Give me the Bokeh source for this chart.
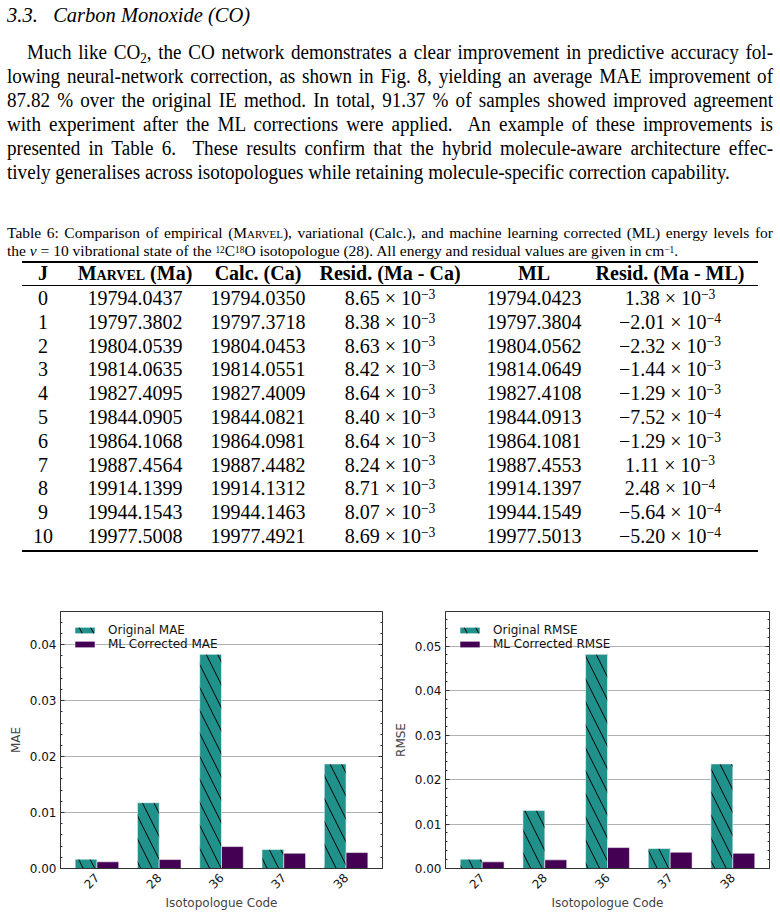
from bokeh.plotting import figure
from bokeh.models import (Div, ColumnDataSource, FactorRange, Range1d, LinearAxis,
                          SingleIntervalTicker, NumeralTickFormatter, CustomJSTickFormatter)
from bokeh.transform import dodge
from bokeh.layouts import column, row
from bokeh.embed import file_html
from bokeh.resources import INLINE

# ---------------- table data (v = 10, 12C18O) ----------------
j_levels = [0, 1, 2, 3, 4, 5, 6, 7, 8, 9, 10]
marvel = [19794.0437, 19797.3802, 19804.0539, 19814.0635, 19827.4095, 19844.0905,
          19864.1068, 19887.4564, 19914.1399, 19944.1543, 19977.5008]
calc = [19794.0350, 19797.3718, 19804.0453, 19814.0551, 19827.4009, 19844.0821,
        19864.0981, 19887.4482, 19914.1312, 19944.1463, 19977.4921]
resid_ma_ca = [8.65e-3, 8.38e-3, 8.63e-3, 8.42e-3, 8.64e-3, 8.40e-3,
               8.64e-3, 8.24e-3, 8.71e-3, 8.07e-3, 8.69e-3]
ml_levels = [19794.0423, 19797.3804, 19804.0562, 19814.0649, 19827.4108, 19844.0913,
             19864.1081, 19887.4553, 19914.1397, 19944.1549, 19977.5013]
resid_ma_ml = [1.38e-3, -2.01e-4, -2.32e-3, -1.44e-3, -1.29e-3, -7.52e-4,
               -1.29e-3, 1.11e-3, 2.48e-4, -5.64e-4, -5.20e-4]

# ---------------- bar chart data ----------------
isotopologues = ["27", "28", "36", "37", "38"]
mae_original = [0.00166, 0.01175, 0.03828, 0.00338, 0.01869]
mae_ml = [0.00119, 0.00160, 0.00392, 0.00273, 0.00285]
rmse_original = [0.00209, 0.01306, 0.04813, 0.00448, 0.02351]
rmse_ml = [0.00149, 0.00194, 0.00470, 0.00366, 0.00343]

TEAL = "#21918c"
PURPLE = "#440154"
SERIF = "'Liberation Serif','Times New Roman',serif"
SANS = "DejaVu Sans"

# ---------------- text block ----------------
SUP = "<span style='font-size:0.68em;position:relative;top:-0.45em'>{}</span>"
SUP_SMALL = "<span style='font-size:0.6em;position:relative;top:-0.33em'>{}</span>"
SUB = "<span style='font-size:0.68em;position:relative;top:0.3em'>{}</span>"
SC = "<span style='font-variant:small-caps'>Marvel</span>"
SQUEEZE = 0.955   # horizontal compression of the body text


def sci(v):
    mant, exp = f"{v:.2e}".split("e")
    exp = int(exp)
    mant = mant.replace("-", "\u2212")
    sign = "\u2212" if exp < 0 else ""
    return f"{mant} &times; 10" + SUP.format(f"{sign}{abs(exp)}")


def line(text, left, top, width, size, lh, justify=True, extra="", squeeze=1.0):
    align = "text-align:justify;text-align-last:justify;" if justify else "text-align:left;"
    tf = ""
    if squeeze != 1.0:
        tf = f"transform:scaleX({squeeze});transform-origin:0 0;"
        width = width / squeeze
    return (f"<div style=\"position:absolute;left:{left}px;top:{top}px;width:{width:.1f}px;"
            f"font-family:{SERIF};font-size:{size}px;line-height:{lh}px;color:#000;"
            f"{align}{tf}{extra}\">{text}</div>")


def cell(text, cx, cy, size=20, bold=False):
    w = 200
    fw = "bold" if bold else "normal"
    return (f"<div style=\"position:absolute;left:{cx - w / 2}px;top:{cy - 12}px;width:{w}px;"
            f"font-family:{SERIF};font-size:{size}px;line-height:24px;color:#000;"
            f"text-align:center;font-weight:{fw};white-space:nowrap\">{text}</div>")


def rule(top, h):
    return (f"<div style=\"position:absolute;left:22px;top:{top}px;width:736px;"
            f"height:{h}px;background:#000\"></div>")


parts = []
parts.append(line("3.3.&nbsp;&nbsp;&nbsp;Carbon Monoxide (CO)", 7, 3, 400, 20.5, 24,
                  justify=False, extra="font-style:italic;white-space:nowrap;"))

para = [
    "Much like CO" + SUB.format("2") + ", the CO network demonstrates a clear improvement in predictive accuracy fol-",
    "lowing neural-network correction, as shown in Fig. 8, yielding an average MAE improvement of",
    "87.82 % over the original IE method. In total, 91.37 % of samples showed improved agreement",
    "with experiment after the ML corrections were applied.&nbsp; An example of these improvements is",
    "presented in Table 6.&nbsp; These results confirm that the hybrid molecule-aware architecture effec-",
    "tively generalises across isotopologues while retaining molecule-specific correction capability.",
]
for i, t in enumerate(para):
    left = 27 if i == 0 else 7
    parts.append(line(t, left, 40 + 24 * i, 773 - left, 20, 24,
                      justify=(i < len(para) - 1), squeeze=SQUEEZE))

caption = [
    "Table 6: Comparison of empirical (" + SC + "), variational (Calc.), and machine learning corrected (ML) energy levels for",
    "the <i>v</i> = 10 vibrational state of the " + SUP_SMALL.format("12") + "C" + SUP_SMALL.format("18")
    + "O isotopologue (28). All energy and residual values are given in cm" + SUP_SMALL.format("\u22121") + ".",
]
parts.append(line(caption[0], 7, 225, 766, 15.5, 16, justify=True))
parts.append(line(caption[1], 7, 243, 766, 15.5, 16, justify=False))

col_x = [43, 135, 258, 390, 534, 670]
headers = ["J", SC + " (Ma)", "Calc. (Ca)", "Resid. (Ma - Ca)", "ML", "Resid. (Ma - ML)"]
parts.append(rule(261, 1.6))
for cx, h in zip(col_x, headers):
    parts.append(cell(h, cx, 273, bold=True))
parts.append(rule(285, 1))
for i, jv in enumerate(j_levels):
    cy = 298 + 23.8 * i
    vals = [str(jv), f"{marvel[i]:.4f}", f"{calc[i]:.4f}", sci(resid_ma_ca[i]),
            f"{ml_levels[i]:.4f}", sci(resid_ma_ml[i])]
    for cx, v in zip(col_x, vals):
        parts.append(cell(v, cx, cy))
parts.append(rule(550, 1.6))

html = ("<div style=\"position:relative;width:780px;height:600px;overflow:hidden\">"
        + "".join(parts) + "</div>")
text_block = Div(text=html, width=780, height=600, styles={"margin": "0", "padding": "0"})


# ---------------- bar panels ----------------
def panel(metric, original, corrected, border_left, frame_w, border_right):
    src = ColumnDataSource(dict(code=isotopologues, orig=original, ml=corrected))
    p = figure(x_range=FactorRange(*isotopologues, range_padding=0.085,
                                   range_padding_units="absolute"),
               y_range=Range1d(0, 1.2 * max(original)),
               frame_width=frame_w, frame_height=257,
               min_border_left=border_left, min_border_right=border_right,
               min_border_top=11, min_border_bottom=48,
               output_backend="svg", toolbar_location=None)

    p.vbar(x=dodge("code", -0.175, range=p.x_range), top="orig", width=0.35, source=src,
           fill_color=TEAL, line_color="white", line_alpha=0.55, line_width=1,
           hatch_pattern="\\", hatch_color="black", hatch_scale=23, hatch_weight=1,
           legend_label=f"Original {metric}")
    p.vbar(x=dodge("code", 0.175, range=p.x_range), top="ml", width=0.35, source=src,
           fill_color=PURPLE, line_color="white", line_alpha=0.55, line_width=1,
           legend_label=f"ML Corrected {metric}")

    ticker = SingleIntervalTicker(interval=0.01, num_minor_ticks=5)
    yax = p.yaxis[0]
    yax.ticker = ticker
    yax.formatter = NumeralTickFormatter(format="0.00")
    yax.axis_label = metric
    yax.axis_label_text_font = SANS
    yax.axis_label_text_font_size = "12px"
    yax.axis_label_text_font_style = "normal"
    yax.axis_label_standoff = 4
    yax.major_label_text_font = SANS
    yax.major_label_text_font_size = "12px"
    yax.major_label_text_color = "#111111"
    yax.major_label_standoff = 4
    yax.major_tick_in = 4
    yax.major_tick_out = 0
    yax.minor_tick_in = 2
    yax.minor_tick_out = 0
    yax.axis_line_color = "#333333"
    yax.major_tick_line_color = "#333333"
    yax.minor_tick_line_color = "#333333"

    # mirrored tick marks on the right edge, without labels
    right = LinearAxis(ticker=ticker, formatter=CustomJSTickFormatter(code="return ''"),
                       major_label_standoff=0, major_tick_in=4, major_tick_out=0,
                       minor_tick_in=2, minor_tick_out=0, axis_line_color="#333333",
                       major_tick_line_color="#333333", minor_tick_line_color="#333333")
    p.add_layout(right, "right")

    xax = p.xaxis[0]
    xax.axis_label = "Isotopologue Code"
    xax.axis_label_text_font = SANS
    xax.axis_label_text_font_size = "12px"
    xax.axis_label_text_font_style = "normal"
    xax.axis_label_standoff = 0
    xax.major_label_text_font = SANS
    xax.major_label_text_font_size = "12px"
    xax.major_label_text_color = "#111111"
    xax.major_label_orientation = 0.785398
    xax.major_label_standoff = 7
    xax.major_tick_in = 0
    xax.major_tick_out = 0
    xax.axis_line_color = "#333333"

    p.xgrid.grid_line_color = None
    p.ygrid.grid_line_color = "#b0b0b0"
    p.ygrid.grid_line_width = 1
    p.outline_line_color = "#333333"
    p.outline_line_width = 1

    lg = p.legend[0]
    lg.location = "top_left"
    lg.border_line_color = None
    lg.background_fill_alpha = 0
    lg.label_text_font = SANS
    lg.label_text_font_size = "12px"
    lg.label_text_color = "#111111"
    lg.glyph_width = 25
    lg.glyph_height = 8
    lg.label_height = 12
    lg.label_standoff = 11
    lg.spacing = 0
    lg.padding = 0
    lg.margin = 12
    return p


p_mae = panel("MAE", mae_original, mae_ml, 60, 322, 8)
p_rmse = panel("RMSE", rmse_original, rmse_ml, 53, 324, 13)

layout = column(text_block, row(p_mae, p_rmse, spacing=0), spacing=0)

with open("out.html", "w") as f:
    f.write(file_html(layout, INLINE))
